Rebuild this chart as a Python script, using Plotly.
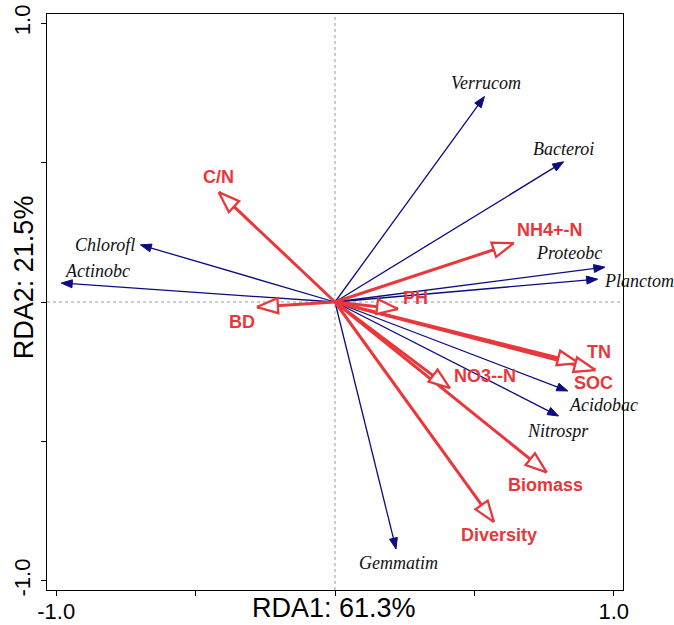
import numpy as np
import plotly.graph_objects as go

# ---- data (RDA biplot scores) ----
species = ["Verrucom", "Bacteroi", "Proteobc", "Planctom", "Chlorofl",
           "Actinobc", "Acidobac", "Nitrospr", "Gemmatim"]
species_rda1 = [0.536, 0.820, 0.968, 0.942, -0.698, -0.982, 0.835, 0.802, 0.219]
species_rda2 = [0.737, 0.503, 0.125, 0.082, 0.205, 0.068, -0.319, -0.409, -0.886]

env = ["C/N", "BD", "NH4+-N", "PH", "TN", "SOC", "NO3--N", "Biomass", "Diversity"]
env_rda1 = [-0.417, -0.280, 0.641, 0.226, 0.874, 0.934, 0.412, 0.759, 0.570]
env_rda2 = [0.394, -0.018, 0.211, -0.025, -0.219, -0.244, -0.309, -0.611, -0.789]

x_title = "RDA1: 61.3%"
y_title = "RDA2: 21.5%"
tick_vals = [-1.0, -0.5, 0.0, 0.5, 1.0]
tick_text = ["-1.0", "", "", "", "1.0"]

# ---- label placement (pixel offsets from arrow tips) ----
species_label_pos = {
    "Verrucom": (2, 14, "center"), "Bacteroi": (0, 13, "center"),
    "Proteobc": (-36, 14, "center"), "Planctom": (4, -2, "left"),
    "Chlorofl": (-3, 0, "right"), "Actinobc": (36, 12, "center"),
    "Acidobac": (36, -14, "center"), "Nitrospr": (-1, -15, "center"),
    "Gemmatim": (2, -14, "center"),
}
env_label_pos = {
    "C/N": (0, 15), "BD": (-15, -15), "NH4+-N": (36, 13), "PH": (17, 11),
    "TN": (20, 11), "SOC": (-2, -13), "NO3--N": (35, 12), "Biomass": (-1, -13),
    "Diversity": (5, -13),
}

RED = "#E8383B"
BLUE = "#0C0C82"
XR = [-1.033, 1.033]
YR = [-1.033, 1.033]
UNIT_PX = 279.0


def heads(xs, ys, length_px, half_w_px):
    hx, hy = [], []
    L = length_px / UNIT_PX
    W = half_w_px / UNIT_PX
    for x, y in zip(xs, ys):
        r = np.hypot(x, y)
        ux, uy = x / r, y / r
        nx, ny = -uy, ux
        bx, by = x - L * ux, y - L * uy
        hx += [x, bx + W * nx, bx - W * nx, x, None]
        hy += [y, by + W * ny, by - W * ny, y, None]
    return hx, hy


def shafts(xs, ys, shorten_px=0.0):
    sx, sy = [], []
    for x, y in zip(xs, ys):
        r = np.hypot(x, y)
        f = max(0.0, 1 - (shorten_px / UNIT_PX) / r)
        sx += [0, x * f, None]
        sy += [0, y * f, None]
    return sx, sy


fig = go.Figure()

# species arrows (blue)
sx, sy = shafts(species_rda1, species_rda2, 6)
fig.add_trace(go.Scatter(x=sx, y=sy, mode="lines",
                         line=dict(color=BLUE, width=1.3), hoverinfo="skip"))
hx, hy = heads(species_rda1, species_rda2, 11, 4)
fig.add_trace(go.Scatter(x=hx, y=hy, mode="lines", fill="toself",
                         fillcolor=BLUE, line=dict(color=BLUE, width=1),
                         hoverinfo="skip"))

# environmental arrows (red, open heads)
ex, ey = shafts(env_rda1, env_rda2, 0)
fig.add_trace(go.Scatter(x=ex, y=ey, mode="lines",
                         line=dict(color=RED, width=3), hoverinfo="skip"))
for i in range(len(env)):
    hx, hy = heads([env_rda1[i]], [env_rda2[i]], 21, 7.5)
    fig.add_trace(go.Scatter(x=hx, y=hy, mode="lines", fill="toself",
                             fillcolor="white", line=dict(color=RED, width=2.3),
                             hoverinfo="skip"))

annotations = []
for name, x, y in zip(species, species_rda1, species_rda2):
    dx, dy, anchor = species_label_pos[name]
    annotations.append(dict(x=x, y=y, xref="x", yref="y", text=name,
                            showarrow=False, xshift=dx, yshift=dy,
                            xanchor=anchor, yanchor="middle",
                            font=dict(family="Liberation Serif, Times New Roman, serif",
                                      size=18, color="#111111", style="italic")))
for name, x, y in zip(env, env_rda1, env_rda2):
    dx, dy = env_label_pos[name]
    annotations.append(dict(x=x, y=y, xref="x", yref="y", text=name,
                            showarrow=False, xshift=dx, yshift=dy,
                            xanchor="center", yanchor="middle",
                            font=dict(family="Liberation Sans, Arial, sans-serif",
                                      size=18, color=RED, weight="bold")))

annotations.append(dict(x=0.498, y=-0.031, xref="paper", yref="paper", text=x_title,
                        showarrow=False, xanchor="center", yanchor="middle",
                        font=dict(family="Liberation Sans, Arial, sans-serif",
                                  size=27, color="black")))
annotations.append(dict(x=-0.04, y=0.543, xref="paper", yref="paper", text=y_title,
                        showarrow=False, xanchor="center", yanchor="middle",
                        textangle=-90,
                        font=dict(family="Liberation Sans, Arial, sans-serif",
                                  size=27, color="black")))

shapes = [
    dict(type="line", xref="x", yref="paper", x0=0, x1=0, y0=0, y1=1,
         line=dict(color="#9a9a9a", width=1, dash="dot"), layer="below"),
    dict(type="line", xref="paper", yref="y", x0=0, x1=1, y0=0, y1=0,
         line=dict(color="#9a9a9a", width=1, dash="dot"), layer="below"),
]

axis_common = dict(showgrid=False, zeroline=False, showline=True, mirror=True,
                   linecolor="black", linewidth=1.3, ticks="outside", ticklen=5,
                   tickcolor="black", tickwidth=1.2, tickvals=tick_vals,
                   ticktext=tick_text, automargin=False,
                   tickfont=dict(family="Liberation Sans, Arial, sans-serif",
                                 size=22, color="black"))

fig.update_layout(
    width=674, height=625,
    margin=dict(l=47, r=51, t=14, b=35),
    paper_bgcolor="white", plot_bgcolor="white",
    showlegend=False,
    xaxis=dict(range=XR, ticklabelstandoff=-4, **axis_common),
    yaxis=dict(range=YR, tickangle=-90, ticklabelstandoff=2, **axis_common),
    annotations=annotations, shapes=shapes,
)

fig.write_html("out.html", config={"displayModeBar": False})

# remove default page margin so the figure sits at the window's top-left corner
with open("out.html", "r", encoding="utf-8") as f:
    html = f.read()
html = html.replace("<head>", "<head><style>html,body{margin:0;padding:0;overflow:hidden;}</style>", 1)
with open("out.html", "w", encoding="utf-8") as f:
    f.write(html)
